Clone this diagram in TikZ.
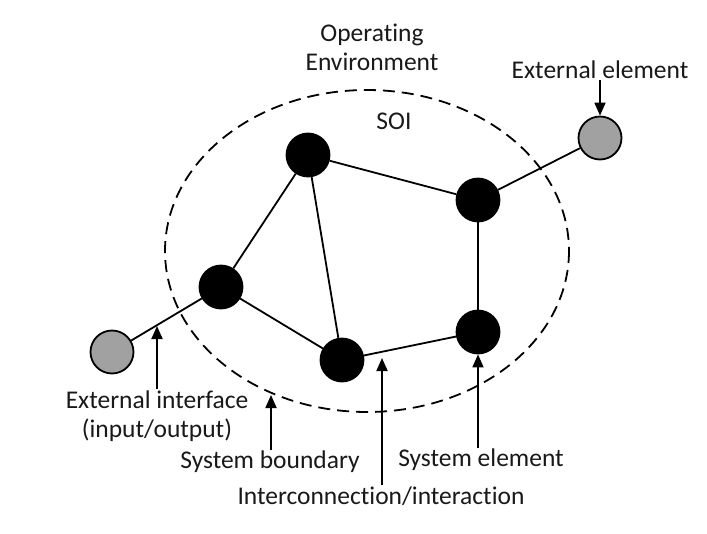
\documentclass[tikz,border=0pt]{standalone}
\usepackage{fontspec}
\setmainfont{Carlito}[Ligatures=NoCommon]
\usetikzlibrary{arrows.meta}

\tikzset{
  sysel/.style={circle,draw=black,fill=black,line width=1.8pt,minimum size=43pt,inner sep=0pt},
  extel/.style={circle,draw=black,fill=black!37,line width=1.8pt,minimum size=43pt,inner sep=0pt},
  lbl/.style={align=center,inner sep=1pt,text=black!90,font=\fontsize{25.5}{29}\selectfont},
  link/.style={line width=1.8pt},
  callout/.style={line width=1.8pt,-{Triangle[length=13pt,width=11pt]}},
}

\begin{document}
\begin{tikzpicture}[x=1pt,y=-1pt]
  \useasboundingbox (0,0) rectangle (707,533);

  % system boundary
  \draw[line width=1.8pt,dash pattern=on 12pt off 7pt] (367,251) ellipse [x radius=202,y radius=161];

  % texts
  \node[lbl] (env) at (372,47) {Operating\\Environment};
  \node[lbl] (soi) at (394,121) {SOI};

  % elements
  \node[sysel] (sysT) at (308,155) {};
  \node[sysel] (sysR) at (478,200) {};
  \node[sysel] (sysL) at (221,287) {};
  \node[sysel] (sysBR) at (478,332) {};
  \node[sysel] (sysB) at (342,360) {};
  \node[extel] (extR) at (600,138) {};
  \node[extel] (extL) at (112,352) {};

  % interconnections
  \draw[link] (sysT) -- (sysR);
  \draw[link] (sysT) -- (sysL);
  \draw[link] (sysT) -- (sysB);
  \draw[link] (sysL) -- (sysB);
  \draw[link] (sysB) -- (sysBR);
  \draw[link] (sysBR) -- (sysR);
  \draw[link] (sysR) -- (extR);
  \draw[link] (extL) -- (sysL);

  % callouts
  \node[lbl] (lblExt) at (600,70) {External element};
  \node[lbl] (lblIf) at (157,416) {External interface\\(input/output)};
  \node[lbl] (lblBnd) at (270,462) {System boundary};
  \node[lbl] (lblEl) at (481,460) {System element};
  \node[lbl] (lblIc) at (381,496) {Interconnection/interaction};

  \coordinate (iface) at (157,326);
  \coordinate (bnd) at (271,395);
  \coordinate (icon) at (382,358);

  \draw[callout] (lblExt.south) -- (extR.north);
  \draw[callout] (lblIf.north) -- (iface);
  \draw[callout] (lblBnd.north -| bnd) -- (bnd);
  \draw[callout] (lblEl.north -| sysBR) -- (sysBR.south);
  \draw[callout] (lblIc.north -| icon) -- (icon);
\end{tikzpicture}
\end{document}
